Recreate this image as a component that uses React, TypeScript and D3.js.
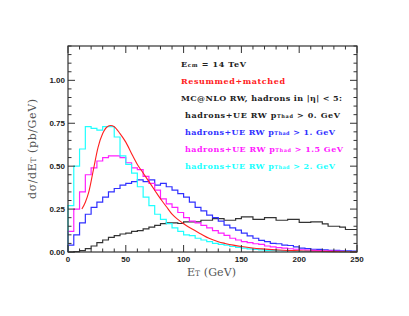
import React from 'react'
import * as d3 from 'd3'

// bin lower edges, 5 GeV bins from 0 to 250
const binEdges = d3.range(0, 250, 5)
const binWidth = 5

const blackHist = [
  0.0, 0.002, 0.008, 0.02, 0.035, 0.055, 0.07, 0.085, 0.095, 0.105,
  0.11, 0.12, 0.125, 0.135, 0.145, 0.155, 0.165, 0.17, 0.17, 0.166,
  0.175, 0.175, 0.175, 0.185, 0.185, 0.195, 0.195, 0.185, 0.185, 0.195,
  0.205, 0.205, 0.19, 0.19, 0.2, 0.2, 0.185, 0.185, 0.19, 0.19,
  0.172, 0.172, 0.175, 0.175, 0.164, 0.15, 0.15, 0.145, 0.131, 0.131,
]
const blueHist = [
  0.04, 0.1, 0.17, 0.22, 0.26, 0.29, 0.32, 0.35, 0.37, 0.39,
  0.4, 0.41, 0.42, 0.41, 0.42, 0.39, 0.4, 0.38, 0.36, 0.34,
  0.32, 0.29, 0.26, 0.24, 0.215, 0.2, 0.18, 0.156, 0.14, 0.127,
  0.11, 0.094, 0.08, 0.068, 0.06, 0.05, 0.048, 0.04, 0.038, 0.03,
  0.023, 0.02, 0.016, 0.015, 0.012, 0.01, 0.009, 0.007, 0.006, 0.005,
]
const magentaHist = [
  0.12, 0.25, 0.35, 0.45, 0.49, 0.53, 0.55, 0.56, 0.56, 0.55,
  0.52, 0.49, 0.48, 0.44, 0.4, 0.36, 0.31, 0.28, 0.26, 0.23,
  0.2, 0.18, 0.17, 0.155, 0.14, 0.125, 0.11, 0.097, 0.08, 0.07,
  0.06, 0.055, 0.048, 0.044, 0.035, 0.03, 0.026, 0.022, 0.019, 0.016,
  0.013, 0.011, 0.009, 0.008, 0.007, 0.006, 0.005, 0.004, 0.003, 0.003,
]
const cyanHist = [
  0.27, 0.5, 0.6, 0.73, 0.72, 0.71, 0.73, 0.73, 0.67, 0.56,
  0.51, 0.46, 0.38, 0.32, 0.27, 0.22, 0.19, 0.165, 0.14, 0.12,
  0.1, 0.095, 0.08, 0.07, 0.06, 0.05, 0.045, 0.04, 0.032, 0.027,
  0.022, 0.018, 0.015, 0.012, 0.01, 0.009, 0.008, 0.007, 0.006, 0.005,
  0.004, 0.004, 0.003, 0.003, 0.002, 0.002, 0.002, 0.001, 0.001, 0.001,
]

// resummed+matched curve (ET, value)
const resumET = [12, 15, 18, 22, 26, 30, 34, 37, 40, 45, 50, 56, 60, 65, 70, 75, 80, 85, 90, 95, 100, 107, 115, 122, 130, 136, 143, 150, 158, 168, 186, 200, 215, 230, 250]
const resumVal = [0.25, 0.29, 0.35, 0.48, 0.61, 0.69, 0.73, 0.737, 0.73, 0.69, 0.64, 0.56, 0.51, 0.46, 0.41, 0.36, 0.31, 0.265, 0.22, 0.19, 0.165, 0.135, 0.105, 0.08, 0.06, 0.05, 0.04, 0.032, 0.025, 0.018, 0.01, 0.007, 0.004, 0.002, 0.001]

const xTicks = [0, 50, 100, 150, 200, 250]
const yTicks = [0, 0.25, 0.5, 0.75, 1.0]

const W = 409
const H = 316
const margin = { left: 68, right: 52, top: 46, bottom: 64 }

const serif = '"DejaVu Serif", "Liberation Serif", serif'
const sans = '"Liberation Sans", Arial, sans-serif'

export default function App() {
  const x = d3.scaleLinear().domain([0, 250]).range([margin.left, W - margin.right])
  const y = d3.scaleLinear().domain([0, 1.2]).range([H - margin.bottom, margin.top])

  const stepPath = (vals: number[]) => {
    const pts: [number, number][] = [[0, 0]]
    vals.forEach((v, i) => {
      pts.push([binEdges[i], v])
      pts.push([binEdges[i] + binWidth, v])
    })
    return d3.line<[number, number]>().x(d => x(d[0])).y(d => y(d[1]))(pts) || ''
  }

  const redLine = d3.line<number>()
    .x((_, i) => x(resumET[i]))
    .y(d => y(d))
    .curve(d3.curveMonotoneX)(resumVal) || ''

  const hists = [
    { vals: blackHist, color: '#333333' },
    { vals: blueHist, color: '#3030ff' },
    { vals: magentaHist, color: '#ff20ff' },
    { vals: cyanHist, color: '#20ffff' },
  ]

  const xMinor = d3.range(0, 251, 10)
  const yMinor = d3.range(0, 1.2001, 0.05)
  const x0 = x(0), x1 = x(250), y0 = y(0), y1 = y(1.2)

  const legend = [
    { rest: ' > 0. GeV', color: '#222', len: 155 },
    { rest: ' > 1. GeV', color: '#3030ff', len: 150 },
    { rest: ' > 1.5 GeV', color: '#ff20ff', len: 158 },
    { rest: ' > 2. GeV', color: '#20ffff', len: 150 },
  ]

  return (
    <svg width={W} height={H} style={{ position: 'absolute', left: 0, top: 0, background: '#fff' }}>
      {hists.map((h, i) => (
        <path key={i} d={stepPath(h.vals)} fill="none" stroke={h.color} strokeWidth={1.2} />
      ))}
      <path d={redLine} fill="none" stroke="#ff2020" strokeWidth={1.1} />

      {/* frame */}
      <rect x={x0} y={y1} width={x1 - x0} height={y0 - y1} fill="none" stroke="#333" strokeWidth={1.2} />
      {xMinor.map(t => {
        const len = t % 50 === 0 ? 7 : 3.5
        return (
          <g key={'xt' + t} stroke="#333" strokeWidth={1}>
            <line x1={x(t)} x2={x(t)} y1={y0} y2={y0 - len} />
            <line x1={x(t)} x2={x(t)} y1={y1} y2={y1 + len} />
          </g>
        )
      })}
      {yMinor.map((t, i) => {
        const len = i % 5 === 0 ? 7 : 3.5
        return (
          <g key={'yt' + i} stroke="#333" strokeWidth={1}>
            <line x1={x0} x2={x0 + len} y1={y(t)} y2={y(t)} />
            <line x1={x1} x2={x1 - len} y1={y(t)} y2={y(t)} />
          </g>
        )
      })}
      {xTicks.map(t => (
        <text key={'xl' + t} x={x(t)} y={y0 + 10} textAnchor="middle" fontFamily={sans} fontWeight="bold" fontSize={8} fill="#222">{t}</text>
      ))}
      {yTicks.map(t => (
        <text key={'yl' + t} x={x0 - 3} y={y(t) + 3} textAnchor="end" fontFamily={sans} fontWeight="bold" fontSize={8} fill="#222">{t.toFixed(2)}</text>
      ))}

      {/* axis titles */}
      <text x={(x0 + x1) / 2 - 1} y={276} textAnchor="middle" fontFamily={serif} fontSize={11} fill="#555"
        textLength={49} lengthAdjust="spacing">
        E<tspan fontSize={7.5}>T</tspan> (GeV)
      </text>
      <text transform={`translate(36,${(y0 + y1) / 2}) rotate(-90)`} textAnchor="middle" fontFamily={serif} fontSize={11} fill="#555"
        textLength={100} lengthAdjust="spacing">
        dσ/dE<tspan fontSize={7.5}>T</tspan> (pb/GeV)
      </text>

      {/* legend */}
      <g fontFamily={serif} fontWeight="bold" fontSize={8} lengthAdjust="spacing">
        <text x={181} y={67} fill="#222" textLength={65}>E<tspan fontSize={5.5}>cm</tspan> = 14 TeV</text>
        <text x={181} y={84} fill="#ff2020" textLength={104}>Resummed+matched</text>
        <text x={181} y={101} fill="#222" textLength={161}>MC@NLO RW, hadrons in |η| &lt; 5:</text>
        {legend.map((l, i) => (
          <text key={i} x={185} y={118 + i * 17} fill={l.color} textLength={l.len}>
            hadrons+UE RW p<tspan fontSize={5}>Thad</tspan>{l.rest}
          </text>
        ))}
      </g>
    </svg>
  )
}
